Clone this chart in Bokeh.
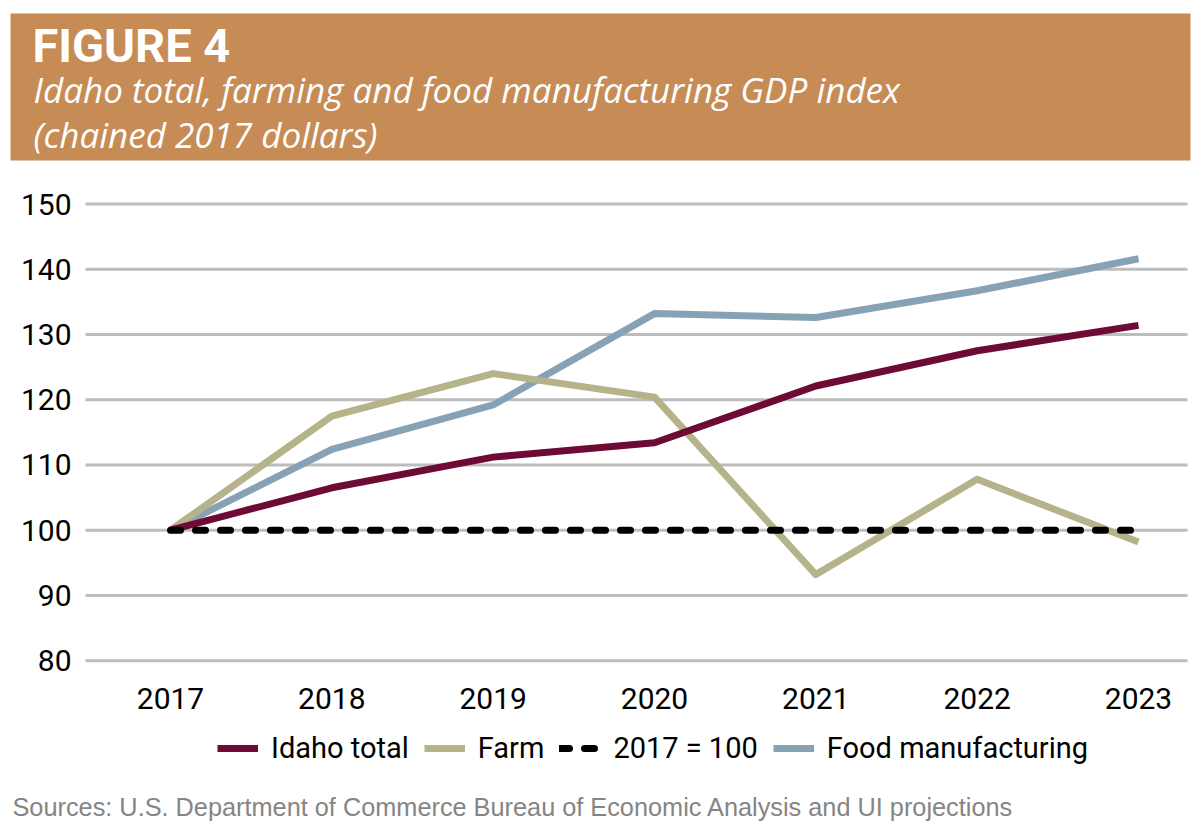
from bokeh.plotting import figure
from bokeh.models import Range1d, Legend, LegendItem, FixedTicker
from bokeh.core.properties import value
from bokeh.embed import file_html
from bokeh.resources import INLINE

# ---------------- data ----------------
years = [2017, 2018, 2019, 2020, 2021, 2022, 2023]
x_tick_labels = ["2017", "2018", "2019", "2020", "2021", "2022", "2023"]
idaho_total = [100, 106.5, 111.2, 113.4, 122.1, 127.5, 131.4]
farm = [100, 117.5, 124.0, 120.4, 93.2, 107.8, 98.2]
baseline_2017 = [100, 100, 100, 100, 100, 100, 100]
food_manufacturing = [100, 112.4, 119.2, 133.2, 132.6, 136.7, 141.6]
y_ticks = [80, 90, 100, 110, 120, 130, 140, 150]

series_names = ["Idaho total", "Farm", "2017 = 100", "Food manufacturing"]
title_text = "FIGURE 4"
subtitle_lines = ["Idaho total, farming and food manufacturing GDP index",
                  "(chained 2017 dollars)"]
source_text = "Sources: U.S. Department of Commerce Bureau of Economic Analysis and UI projections"

# ---------------- style / layout ----------------
W, H = 1200, 834
BAND = "#C78B55"
RED = "#6E0B34"
TAN = "#B5B389"
BLUE = "#88A2B5"
GRID = "#BDBDBD"
TICKFONT = "Roboto"

# the frame covers the whole canvas; data ranges are chosen so the plot area
# sits where the chart area is, and an extra pixel range carries the header/footer
PX_X = 161.333           # pixels per year
PX_Y = 6.524             # pixels per index point
x0 = 2017 - 170 / PX_X
y_top = 150 + 203.5 / PX_Y
p = figure(width=W, height=H, title=None,
           x_range=Range1d(x0, x0 + W / PX_X),
           y_range=Range1d(y_top - H / PX_Y, y_top),
           output_backend="svg", toolbar_location=None, min_border=0,
           outline_line_color=None, background_fill_color="white",
           border_fill_color="white")
p.extra_x_ranges = {"px": Range1d(0, W)}
p.extra_y_ranges = {"px": Range1d(H, 0)}

# grid lines over the chart area only
grid_lo = 2017 - 85 / PX_X
grid_hi = 2023 + 49 / PX_X
p.grid.visible = False
p.segment(x0=[grid_lo] * len(y_ticks), x1=[grid_hi] * len(y_ticks),
          y0=y_ticks, y1=y_ticks, line_color=GRID, line_width=3)

p.yaxis.ticker = FixedTicker(ticks=y_ticks)
p.xaxis.ticker = FixedTicker(ticks=years)
p.xaxis.major_label_overrides = {y: lab for y, lab in zip(years, x_tick_labels)}
for ax in (p.xaxis, p.yaxis):
    ax.axis_line_color = None
    ax.major_tick_line_color = None
    ax.minor_tick_line_color = None
    ax.major_tick_out = 0
    ax.major_tick_in = 0
    ax.major_label_text_font = TICKFONT
    ax.major_label_text_font_size = "30px"
    ax.major_label_text_color = "black"
p.yaxis.major_label_standoff = -71
p.xaxis.major_label_standoff = -147

r_food = p.line(years, food_manufacturing, line_color=BLUE, line_width=7, line_join="round")
r_farm = p.line(years, farm, line_color=TAN, line_width=7, line_join="round")
r_idaho = p.line(years, idaho_total, line_color=RED, line_width=7, line_join="round")
r_base = p.line(years, baseline_2017, line_color="black", line_width=7,
                line_dash="10 15", line_cap="round")

legend = Legend(items=[LegendItem(label=series_names[0], renderers=[r_idaho]),
                       LegendItem(label=series_names[1], renderers=[r_farm]),
                       LegendItem(label=series_names[2], renderers=[r_base]),
                       LegendItem(label=series_names[3], renderers=[r_food])],
                orientation="horizontal", location=(217, 69),
                label_text_font=TICKFONT, label_text_font_size="29px",
                label_text_color="black", glyph_width=41, glyph_height=34,
                label_height=34, label_standoff=13, spacing=15, padding=0, margin=0,
                border_line_color=None, background_fill_alpha=0)
p.add_layout(legend, "center")

# ---------------- header ----------------
p.quad(left=[10], right=[1190], top=[13], bottom=[160], fill_color=BAND,
       line_color=None, x_range_name="px", y_range_name="px")
p.text(x=[32], y=[45], text=[title_text], text_font=value("Roboto"),
       text_font_style="bold", text_font_size="47px", text_color="white",
       text_baseline="alphabetic", x_range_name="px", y_range_name="px")
p.text(x=[33, 33], y=[89, 134], text=subtitle_lines, text_font=value("Open Sans"),
       text_font_style="italic", text_font_size="35px", text_color="white",
       text_baseline="alphabetic", x_range_name="px", y_range_name="px")

# ---------------- footer ----------------
p.text(x=[12], y=[806], text=[source_text], text_font=value("Liberation Sans"),
       text_font_size="25.3px", text_color="#858585", text_baseline="alphabetic",
       x_range_name="px", y_range_name="px")

open("out.html", "w").write(file_html(p, INLINE))
